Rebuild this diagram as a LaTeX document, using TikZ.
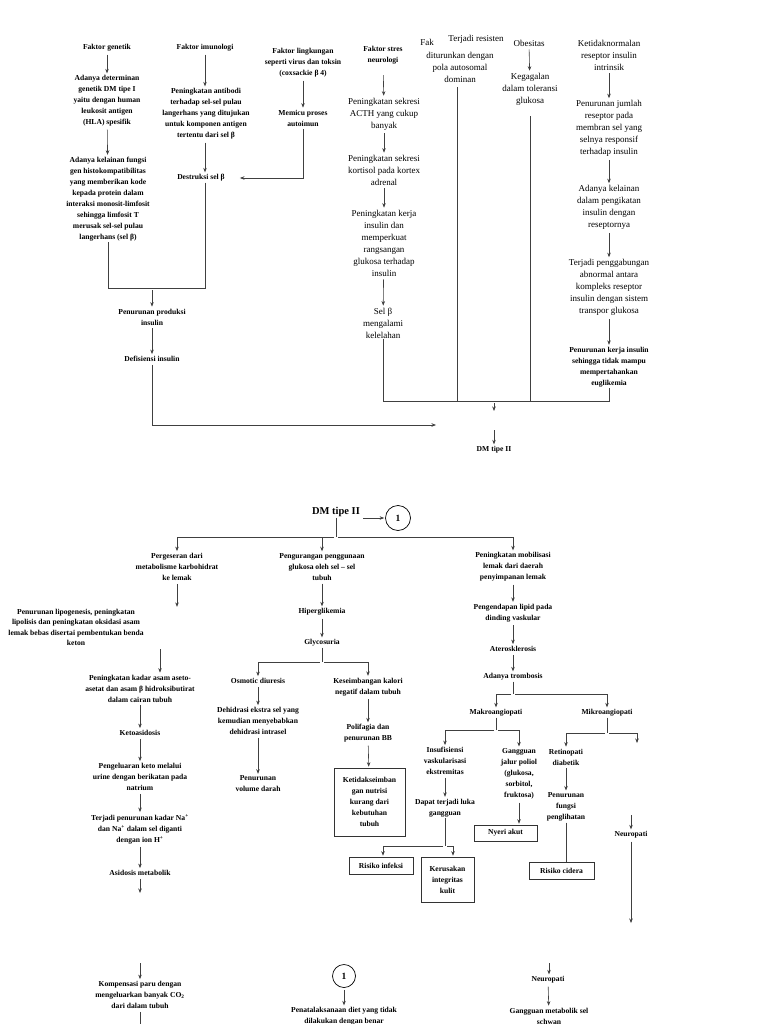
\documentclass[tikz,border=0pt]{standalone}
\usepackage{fontspec}
\setmainfont{Liberation Serif}
\usetikzlibrary{arrows.meta}
\begin{document}
\begin{tikzpicture}[x=1pt,y=-1pt,
  tb/.style={font=\fontsize{7.6}{11}\selectfont\bfseries, align=center, inner sep=1pt},
  tc/.style={font=\fontsize{9}{12}\selectfont, align=center, inner sep=1pt},
  ln/.style={line width=0.6pt, draw=black!75},
  ar/.style={ln, -{Stealth[length=4.5pt,width=3.5pt]}, shorten >=1pt, shorten <=2pt},
  bx/.style={tb, draw=black!80, line width=0.6pt},
  circ/.style={circle, draw, line width=0.7pt, minimum size=25pt, font=\fontsize{9.5}{10}\selectfont\bfseries, inner sep=0pt}
]
\path[fill=white] (0,0) rectangle (768,1024);
\useasboundingbox (0,0) rectangle (768,1024);

% ===== top: genetic =====
\node[tb] (g1) at (107,48) {Faktor genetik};
\node[tb] (g2) at (107,101) {Adanya determinan\\genetik DM tipe I\\yaitu dengan human\\leukosit antigen\\(HLA) spesifik};
\node[tb] (g3) at (108,199) {Adanya kelainan fungsi\\gen histokompatibilitas\\yang memberikan kode\\kepada protein dalam\\interaksi monosit-limfosit\\sehingga limfosit T\\merusak sel-sel pulau\\langerhans (sel β)};
\draw[ar] (g1) -- (g2);
\draw[ar] (g2) -- (g3);

% immunology
\node[tb] (i1) at (205,48) {Faktor imunologi};
\node[tb] (i2) at (206,114) {Peningkatan antibodi\\terhadap sel-sel pulau\\langerhans yang ditujukan\\untuk komponen antigen\\tertentu dari sel β};
\node[tb] (i3) at (201,178) {Destruksi sel β};
\draw[ar] (i1) -- (i1 |- i2.north);
\draw[ar] (i2.south -| i1) -- (i1 |- i3.north);

% environment
\node[tb] (l1) at (303,63) {Faktor lingkungan\\seperti virus dan toksin\\(coxsackie β 4)};
\node[tb] (l2) at (303,118) {Memicu proses\\autoimun};
\draw[ar] (l1) -- (l2);
\draw[ar, shorten >=14pt] (l2) |- (i3);

% merge to insulin production
\coordinate (m1) at (152,288);
\draw[ln] (g3) |- (m1);
\draw[ln] (i3.south -| i1) |- (m1);
\node[tb] (p1) at (152,317) {Penurunan produksi\\insulin};
\node[tb] (p2) at (152,359) {Defisiensi insulin};
\draw[ar] (m1) -- (p1);
\draw[ar] (p1) -- (p2);

% stress
\node[tb] (s1) at (383,55) {Faktor stres\\neurologi};
\node[tc] (s2) at (384,114) {Peningkatan sekresi\\ACTH yang cukup\\banyak};
\node[tc] (s3) at (384,170) {Peningkatan sekresi\\kortisol pada kortex\\adrenal};
\node[tc] (s4) at (384,243) {Peningkatan kerja\\insulin dan\\memperkuat\\rangsangan\\glukosa terhadap\\insulin};
\node[tc] (s5) at (383,323) {Sel β\\mengalami\\kelelahan};
\draw[ar, shorten <=10pt] (s1) -- (s2);
\draw[ar] (s2) -- (s3);
\draw[ar] (s3) -- (s4);
\draw[ar] (s4) -- (s5);

% clipped heading texts
\node[tc] (f1) at (427,42) {Fak};
\node[tc] (f2) at (476,39) {Terjadi resisten};
\node[tc] (f3) at (460,67) {diturunkan dengan\\pola autosomal\\dominan};
\node[tc] (o1) at (529,43) {Obesitas};
\node[tc] (o2) at (530,89) {Kegagalan\\dalam toleransi\\glukosa};
\draw[ar] (o1) -- (o2);

% receptor column
\node[tc] (r1) at (609,55) {Ketidaknormalan\\reseptor insulin\\intrinsik};
\node[tc] (r2) at (609,128.5) {Penurunan jumlah\\reseptor pada\\membran sel yang\\selnya responsif\\terhadap insulin};
\node[tc] (r3) at (609,207.5) {Adanya kelainan\\dalam pengikatan\\insulin dengan\\reseptornya};
\node[tc] (r4) at (609,287.5) {Terjadi penggabungan\\abnormal antara\\kompleks reseptor\\insulin dengan sistem\\transpor glukosa};
\node[tb] (r5) at (609,367) {Penurunan kerja insulin\\sehingga tidak mampu\\mempertahankan\\euglikemia};
\draw[ar] (r1) -- (r2);
\draw[ar] (r2) -- (r3);
\draw[ar] (r3) -- (r4);
\draw[ar] (r4) -- (r5);

% merge type II
\coordinate (h1) at (383,401);
\coordinate (h2) at (609,401);
\coordinate (hf) at (457,401);
\coordinate (ho) at (530,401);
\draw[ln] (s5) -- (h1) -- (h2) -- (r5);
\draw[ln] ([yshift=-4pt]f3.south -| hf) -- (hf);
\draw[ln] ([yshift=-10pt]o2.south) -- (ho);
\coordinate (h3) at (494,401);
\coordinate (h4) at (494,412);
\draw[ar] (h3) -- (h4);
\coordinate (h5) at (494,428);
\node[tb] (dm1) at (494,450) {DM tipe II};
\draw[ar] (h5) -- (dm1);
\coordinate (dmin) at (437,425);
\draw[ar] (p2) |- (dmin);

% ===== bottom =====
\node[font=\fontsize{10.5}{12}\selectfont\bfseries, inner sep=1pt] (dm2) at (336,512) {DM tipe II};
\node[circ] (c1) at (398,518) {1};
\draw[ar] (dm2.east |- c1) -- (c1);
\coordinate (b0) at (336,537);
\draw[ln] (dm2) -- (b0);

\node[tb] (L1) at (177,567) {Pergeseran dari\\metabolisme karbohidrat\\ke lemak};
\node[tb] (M1) at (322,567) {Pengurangan penggunaan\\glukosa oleh sel – sel\\tubuh};
\node[tb] (R1) at (513,567) {Peningkatan mobilisasi\\lemak dari daerah\\penyimpanan lemak};
\draw[ar] (b0) -| (L1);
\draw[ar] (b0) -| (M1);
\draw[ar] (b0) -| (R1);

% left column
\node[tb, font=\fontsize{7.6}{10.5}\selectfont\bfseries] (L2) at (76,627.5) {Penurunan lipogenesis, peningkatan\\lipolisis dan peningkatan oksidasi asam\\lemak bebas disertai pembentukan benda\\keton};
\draw[ar] (L1) -- (L1 |- L2.north);
\node[tb] (L3) at (140,688.5) {Peningkatan kadar asam aseto-\\asetat dan asam β hidroksibutirat\\dalam cairan tubuh};
\draw[ar] ([xshift=84pt]L2.south) -- ([xshift=20pt]L3.north);
\node[tb] (L4) at (140,733) {Ketoasidosis};
\node[tb] (L5) at (140,777) {Pengeluaran keto melalui\\urine dengan berikatan pada\\natrium};
\node[tb] (L6) at (140,829) {Terjadi penurunan kadar Na\textsuperscript{+}\\dan Na\textsuperscript{+} dalam sel diganti\\dengan ion H\textsuperscript{+}};
\node[tb] (L7) at (140,873) {Asidosis metabolik};
\coordinate (L7a) at (140,894);
\coordinate (L8a) at (140,961);
\node[tb] (L8) at (140,995) {Kompensasi paru dengan\\mengeluarkan banyak CO\textsubscript{2}\\dari dalam tubuh};
\coordinate (L9) at (140,1032);
\draw[ar] (L3) -- (L4);
\draw[ar] (L4) -- (L5);
\draw[ar] (L5) -- (L6);
\draw[ar] (L6) -- (L7);
\draw[ar] (L7) -- (L7a);
\draw[ar] (L8a) -- (L8);
\draw[ar] (L8) -- (L9);

% middle column
\node[tb] (M2) at (322,612) {Hiperglikemia};
\node[tb] (M3) at (322,643) {Glycosuria};
\coordinate (m3j) at (322,662);
\node[tb] (M4) at (258,681) {Osmotic diuresis};
\node[tb] (M5) at (368,687) {Keseimbangan kalori\\negatif dalam tubuh};
\node[tb] (M6) at (258,721) {Dehidrasi ekstra sel yang\\kemudian menyebabkan\\dehidrasi intrasel};
\node[tb] (M7) at (258,784) {Penurunan\\volume darah};
\node[tb] (M8) at (368,733.5) {Polifagia dan\\penurunan BB};
\node[bx, minimum width=71pt, minimum height=68pt] (B1) at (369.5,802) {Ketidakseimban\\gan nutrisi\\kurang dari\\kebutuhan\\tubuh};
\draw[ar] (M1) -- (M2);
\draw[ar] (M2) -- (M3);
\draw[ln] (M3) -- (m3j);
\draw[ar] (m3j) -| (M4);
\draw[ar] (m3j) -| (M5);
\draw[ar] (M4) -- (M6);
\draw[ar] (M6) -- (M7);
\draw[ar] (M5) -- (M8);
\draw[ar] (M8) -- (B1);

% right column
\node[tb] (R2) at (513,613) {Pengendapan lipid pada\\dinding vaskular};
\node[tb] (R3) at (513,649) {Aterosklerosis};
\node[tb] (R4) at (513,677) {Adanya trombosis};
\coordinate (r4j) at (513,694);
\node[tb] (R5) at (496,713) {Makroangiopati};
\node[tb] (R6) at (607,713) {Mikroangiopati};
\draw[ar] (R1) -- (R2);
\draw[ar] (R2) -- (R3);
\draw[ar] (R3) -- (R4);
\draw[ln] (R4) -- (r4j);
\draw[ar] (r4j) -| (R5);
\draw[ar] (r4j) -| (R6);

\coordinate (r5j) at (496,730);
\coordinate (r6j) at (607,733);
\node[tb] (R7) at (445,761) {Insufisiensi\\vaskularisasi\\ekstremitas};
\node[tb] (R8) at (519,774) {Gangguan\\jalur poliol\\(glukosa,\\sorbitol,\\fruktosa)};
\draw[ln] (R5) -- (r5j);
\draw[ar] (r5j) -| (R7);
\draw[ar] (r5j) -| (R8);

\node[tb] (R9) at (566,757) {Retinopati\\diabetik};
\coordinate (r10) at (637,744);
\draw[ln] (R6) -- (r6j);
\draw[ar] (r6j) -| (R9);
\draw[ar] (r6j) -| (r10);

\node[tb] (R12) at (445,808) {Dapat terjadi luka\\gangguan};
\draw[ar] (R7) -- (R12);
\coordinate (r12j) at (445,846);
\draw[ln] (R12) -- (r12j);
\node[bx, minimum width=64pt, minimum height=17pt] (B2) at (381,865.5) {Risiko infeksi};
\node[bx, minimum width=53pt, minimum height=45pt] (B3) at (447.5,879.5) {Kerusakan\\integritas\\kulit};
\draw[ar] (r12j) -| ([xshift=2pt]B2.north);
\draw[ar] (r12j) -| ([xshift=5.5pt]B3.north);

\node[bx, minimum width=63pt, minimum height=16pt] (B4) at (505.5,833) {Nyeri akut};
\draw[ar] (R8) -- (R8 |- B4.north);

\node[tb] (R13) at (566,807) {Penurunan\\fungsi\\penglihatan};
\draw[ar] (R9) -- (R13);
\node[bx, minimum width=65pt, minimum height=17pt] (B5) at (561.5,870.5) {Risiko cidera};
\draw[ln] (R13) -- (R13 |- B5.north);

\coordinate (r11a) at (631,813);
\node[tb] (R11) at (631,835) {Neuropati};
\coordinate (r11b) at (631,924);
\draw[ar] (r11a) -- (R11);
\draw[ar] (R11) -- (r11b);

% bottom row
\node[circ, minimum size=23pt] (C2) at (344,976) {1};
\node[tb] (N1) at (344,1016.5) {Penatalaksanaan diet yang tidak\\dilakukan dengan benar};
\draw[ar] (C2) -- (N1);
\coordinate (n2a) at (549,961);
\node[tb] (N2) at (548,980) {Neuropati};
\node[tb] (N3) at (549,1016) {Gangguan metabolik sel\\schwan};
\draw[ar] (n2a) -- (n2a |- N2.north);
\draw[ar] (N2) -- (N3);
\end{tikzpicture}
\end{document}
